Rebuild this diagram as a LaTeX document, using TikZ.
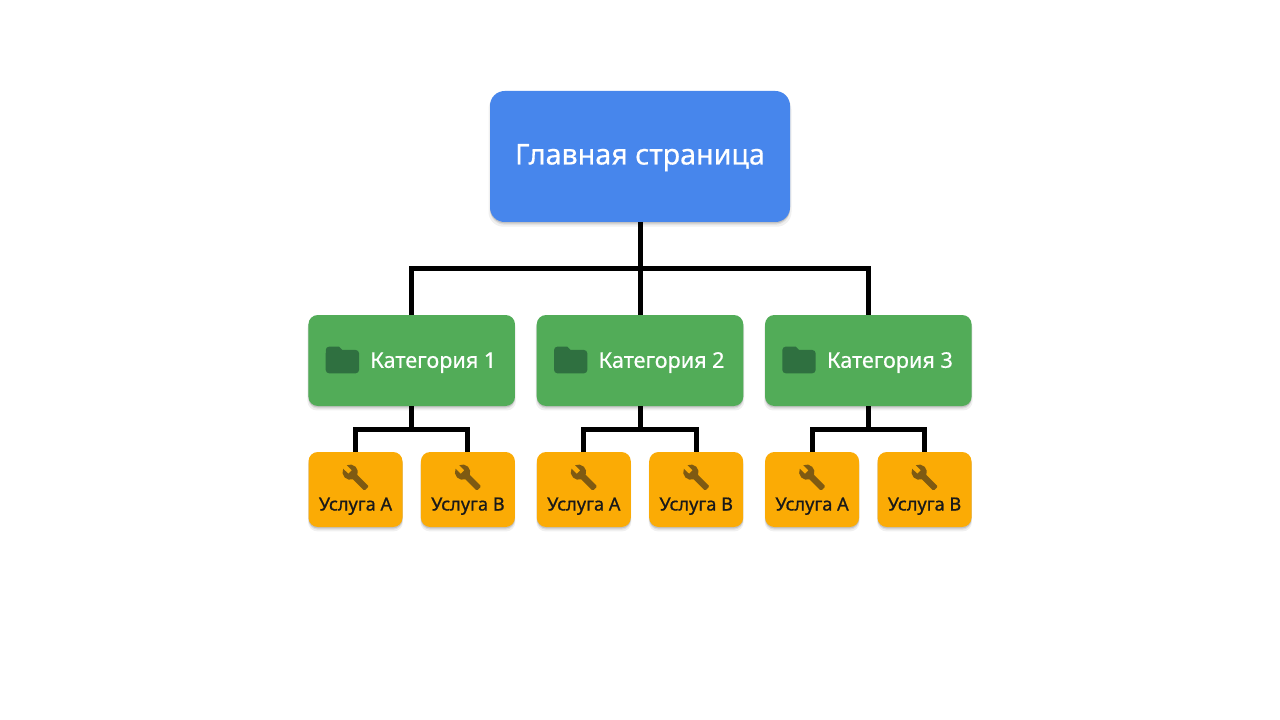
\documentclass[tikz,border=0pt]{standalone}
\usepackage{fontspec}
\setmainfont{Noto Sans}
\newfontfamily\medfont[FakeBold=0.5]{Noto Sans}
\newfontfamily\svcfont[FakeBold=0.9]{Noto Sans}
\usetikzlibrary{shadows}
\definecolor{cblue}{HTML}{4786EC}
\definecolor{cgreen}{HTML}{52AC58}
\definecolor{corange}{HTML}{FBAB05}
\definecolor{cfolder}{HTML}{2F7040}
\definecolor{cwrench}{HTML}{7E5A12}
\tikzset{
  softshadow/.style={
    drop shadow={shadow xshift=0pt,shadow yshift=-3pt,opacity=.06,fill=black,shadow scale=1.01},
    drop shadow={shadow xshift=0pt,shadow yshift=-2pt,opacity=.08,fill=black},
    drop shadow={shadow xshift=0pt,shadow yshift=-1pt,opacity=.12,fill=black}},
  box/.style={rectangle,rounded corners=#1,inner sep=0pt,outer sep=0pt,softshadow},
  mainbox/.style={box=11pt,fill=cblue,minimum width=225pt,minimum height=98.25pt},
  maintext/.style={anchor=base,inner sep=0pt,text=white,font=\medfont\fontsize{21.5}{24}\selectfont},
  catbox/.style={box=7pt,fill=cgreen,minimum width=154.9pt,minimum height=68.25pt},
  svcbox/.style={box=7pt,fill=corange,minimum width=70.5pt,minimum height=56.25pt},
  cattext/.style={anchor=base west,inner sep=0pt,text=white,font=\medfont\fontsize{16.2}{18}\selectfont},
  svctext/.style={anchor=base,inner sep=0pt,text=black!90,font=\svcfont\fontsize{13.6}{15}\selectfont},
  link/.style={draw=black,line width=3.75pt,line join=miter},
  folder/.pic={
    \fill[cfolder] (10,4) -- (4,4) .. controls (2.9,4) and (2.01,4.9) .. (2.01,6)
      -- (2,18) .. controls (2,19.1) and (2.9,20) .. (4,20) -- (20,20)
      .. controls (21.1,20) and (22,19.1) .. (22,18) -- (22,8)
      .. controls (22,6.9) and (21.1,6) .. (20,6) -- (12,6) -- cycle;},
  wrench/.pic={
    \fill[cwrench] (22.7,19) -- (13.6,9.9) .. controls (14.5,7.6) and (14,4.9) .. (12.1,3)
      .. controls (10.1,1) and (7.1,.6) .. (4.7,1.7) -- (9,6) -- (6,9) -- (1.6,4.7)
      .. controls (.4,7.1) and (.9,10.1) .. (2.9,12.1)
      .. controls (4.8,14) and (7.5,14.5) .. (9.8,13.6) -- (18.9,22.7)
      .. controls (19.3,23.1) and (19.9,23.1) .. (20.3,22.7) -- (22.6,20.4)
      .. controls (23.1,20) and (23.1,19.3) .. (22.7,19) -- cycle;},
}
\begin{document}
\begin{tikzpicture}[x=.75pt,y=-.75pt]
\useasboundingbox (0,0) rectangle (1280,720);
\fill[white] (0,0) rectangle (1280,720);
\node[mainbox] (main) at (640,156.5) {};
\node[maintext] (maintxt) at (640,164.5) {Главная страница};
\foreach \i/\cx in {1/411.7,2/640,3/868.3}{
  \node[catbox] (cat\i) at (\cx,360.5) {};
  \path (\cx-89.3,340) pic[x=1.249pt,y=-1.249pt] {folder};
  \node[cattext] (cattext\i) at (\cx-41.6,367.8) {Категория \i};
  \node[svcbox] (svca\i) at (\cx-56.2,489.5) {};
  \node[svcbox] (svcb\i) at (\cx+56.2,489.5) {};
  \path (\cx-56.2-14.2,463.2) pic[x=.885pt,y=-.885pt] {wrench};
  \path (\cx+56.2-14.2,463.2) pic[x=.885pt,y=-.885pt] {wrench};
  \node[svctext] (svcatext\i) at (\cx-56.2,510.5) {Услуга А};
  \node[svctext] (svcbtext\i) at (\cx+56.2,510.5) {Услуга В};
  \coordinate (busc\i) at (\cx,429);
  \draw[link] (cat\i.south) -- (busc\i);
  \draw[link] (svca\i.north) |- (busc\i) -| (svcb\i.north);
}
\coordinate (bus) at (640,268.5);
\draw[link] (main.south) -- (cat2.north);
\draw[link] (cat1.north) |- (bus) -| (cat3.north);
\end{tikzpicture}
\end{document}
